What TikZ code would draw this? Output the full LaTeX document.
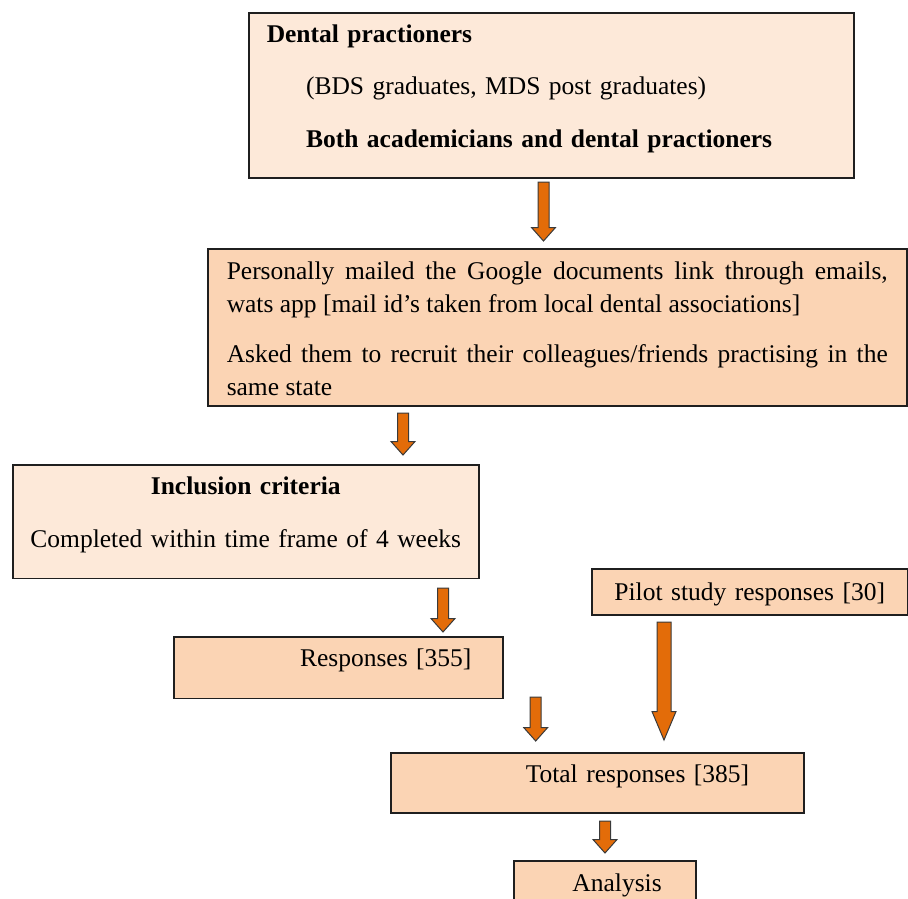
\documentclass[tikz,border=0pt]{standalone}
\usepackage{fontspec}
\setmainfont{Liberation Serif}
\usepackage{xcolor}
\definecolor{Edge}{HTML}{1F1F1F}
\definecolor{ArrowEdge}{HTML}{3A3A3A}
\definecolor{Pale}{HTML}{FDE9D9}
\definecolor{Peach}{HTML}{FBD4B4}
\definecolor{Orange}{HTML}{E36C09}
\usepackage{tikz}
\usetikzlibrary{calc}
\tikzset{
  box/.style={draw=Edge,line width=1.5pt,anchor=north west,inner ysep=0pt,
    font=\fontsize{25.5}{33.3}\selectfont,text=black},
  pale/.style={box,fill=Pale},
  peach/.style={box,fill=Peach},
  flowarrow/.style n args={3}{draw=ArrowEdge,fill=Orange,line width=1pt,line join=miter,
    to path={($(\tikztostart)+(-#1,0)$) -- ($(\tikztotarget)+(-#1,-#3)$)
      -- ($(\tikztotarget)+(-#2,-#3)$) -- (\tikztotarget)
      -- ($(\tikztotarget)+(#2,-#3)$) -- ($(\tikztotarget)+(#1,-#3)$)
      -- ($(\tikztostart)+(#1,0)$) -- cycle}},
  arrow/.style={flowarrow={5.5}{12}{13.5}},
  bigarrow/.style={flowarrow={7}{12}{28.5}}
}
\begin{document}
\begin{tikzpicture}[x=1pt,y=-1pt]
\useasboundingbox (0,0) rectangle (908,898);
% boxes
\node[pale,text width=569,inner xsep=18,text height=29.7,text depth=135.3,align=left,
  font=\fontsize{25.5}{52.5}\selectfont] (staff) at (248,12)
  {\textbf{Dental practioners}\\
   \hspace*{39.3pt}(BDS graduates, MDS post graduates)\\
   \hspace*{39.3pt}\textbf{Both academicians and dental practioners}};
\node[peach,text width=661,inner xsep=19,text height=30.3,text depth=126.7,align=justify] (mail) at (207,248)
  {Personally mailed the Google documents link through emails,\linebreak
   wats app [mail id’s taken from local dental associations]\\[16.7pt]
   Asked them to recruit their colleagues/friends practising in the\linebreak
   same state};
\node[pale,text width=456,inner xsep=5,text height=30,text depth=83.5,align=center,
  font=\fontsize{25.5}{52.7}\selectfont] (incl) at (12,464)
  {\textbf{Inclusion criteria}\\Completed within time frame of 4 weeks};
\node[peach,text width=329,inner xsep=0,text height=30,text depth=31.5,align=left] (resp) at (173,636)
  {\hspace*{126.3pt}Responses [355]};
\node[peach,text width=296,inner xsep=10,text height=31.5,text depth=14.8,align=center] (pilot) at (591,568)
  {Pilot study responses [30]};
\node[peach,text width=413,inner xsep=0,text height=29.7,text depth=30.3,align=left] (total) at (390,752)
  {\hspace*{135pt}Total responses [385]};
\node[peach,text width=182,inner xsep=0,text height=30.7,text depth=45,align=left] (anal) at (513,860)
  {\hspace*{58.7pt}Analysis};
% arrow ends
\coordinate (from1) at (543.5,182); \coordinate (to1) at (543.5,241);
\coordinate (from2) at (403,413);   \coordinate (to2) at (403,455);
\coordinate (from3) at (443,588);   \coordinate (to3) at (443,632);
\coordinate (from4) at (535.7,697); \coordinate (to4) at (535.7,741);
\coordinate (from5) at (664,622);   \coordinate (to5) at (664,740);
\coordinate (from6) at (605,821);   \coordinate (to6) at (605,853);
% arrows
\draw[arrow] (from1) to (to1);
\draw[arrow] (from2) to (to2);
\draw[arrow] (from3) to (to3);
\draw[arrow] (from4) to (to4);
\draw[bigarrow] (from5) to (to5);
\draw[arrow] (from6) to (to6);
\end{tikzpicture}
\end{document}
